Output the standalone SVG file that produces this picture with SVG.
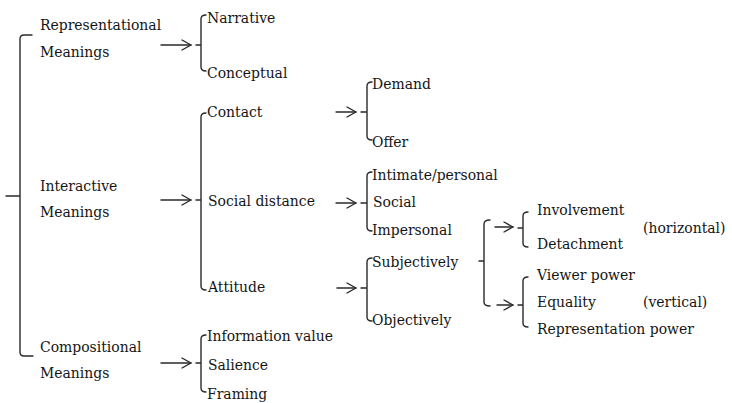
<svg xmlns="http://www.w3.org/2000/svg" width="732" height="403" viewBox="0 0 732 403">
<defs>
<style>
.t text{font-family:'DejaVu Serif Condensed','DejaVu Serif',serif;font-stretch:condensed;font-size:15.5px;fill:#151515}
.ln{fill:none;stroke:#2a2a2a;stroke-width:1.4;stroke-linecap:round;stroke-linejoin:round}
</style>
<marker id="ah" viewBox="-11 -6 12 12" refX="0" refY="0" markerWidth="12" markerHeight="12" markerUnits="userSpaceOnUse" orient="auto">
<path d="M-9,-5 L0,0 L-9,5" fill="none" stroke="#2a2a2a" stroke-width="1.4" stroke-linecap="round" stroke-linejoin="round"/>
</marker>
</defs>
<rect width="732" height="403" fill="#ffffff"/>
<g id="connectors">
<path class="ln" d="M32,35 L24,35 Q20,35 20,39 L20,352 Q20,356 24,356 L33,356 M6,196 L20,196"/>
<line class="ln" x1="161" y1="45" x2="191" y2="45" marker-end="url(#ah)"/>
<line class="ln" x1="161" y1="200" x2="191" y2="200" marker-end="url(#ah)"/>
<line class="ln" x1="161" y1="363" x2="191" y2="363" marker-end="url(#ah)"/>
<path class="ln" d="M196,45 L201,45 M206,15 Q201,15 201,19 L201,67 Q201,71 206,71"/>
<path class="ln" d="M196,200 L201,200 M206,113 Q201,113 201,117 L201,286 Q201,290 206,290"/>
<path class="ln" d="M196,363 L201,363 M206,335 Q201,335 201,339 L201,388 Q201,392 206,392"/>
<line class="ln" x1="336" y1="112" x2="356" y2="112" marker-end="url(#ah)"/>
<line class="ln" x1="336" y1="203" x2="356" y2="203" marker-end="url(#ah)"/>
<line class="ln" x1="337" y1="288" x2="356" y2="288" marker-end="url(#ah)"/>
<path class="ln" d="M361,112 L367,112 M372,82 Q367,82 367,86 L367,136 Q367,140 372,140"/>
<path class="ln" d="M361,203 L367,203 M372,172 Q367,172 367,176 L367,227 Q367,231 372,231"/>
<path class="ln" d="M361,288 L367,288 M372,258 Q367,258 367,262 L367,317 Q367,321 372,321"/>
<path class="ln" d="M479,261 L484,261 M490,220 Q484,220 484,224 L484,302 Q484,306 490,306"/>
<line class="ln" x1="495" y1="227" x2="513" y2="227" marker-end="url(#ah)"/>
<line class="ln" x1="497" y1="305" x2="513" y2="305" marker-end="url(#ah)"/>
<path class="ln" d="M518,228 L523,228 M528,212 Q523,212 523,216 L523,243 Q523,247 528,247"/>
<path class="ln" d="M518,305 L523,305 M528,277 Q523,277 523,281 L523,323 Q523,327 528,327"/>
</g>
<g class="t">
<g id="representational"><text x="40" y="30">Representational</text><text x="40" y="57">Meanings</text></g>
<g id="interactive"><text x="40" y="191">Interactive</text><text x="40" y="217">Meanings</text></g>
<g id="compositional"><text x="40" y="352">Compositional</text><text x="40" y="378">Meanings</text></g>
<g id="narrative"><text x="207" y="23">Narrative</text></g>
<g id="conceptual"><text x="207" y="78">Conceptual</text></g>
<g id="contact"><text x="207" y="117">Contact</text></g>
<g id="social-distance"><text x="208" y="206">Social distance</text></g>
<g id="attitude"><text x="208" y="292">Attitude</text></g>
<g id="information-value"><text x="207" y="341">Information value</text></g>
<g id="salience"><text x="208" y="370">Salience</text></g>
<g id="framing"><text x="207" y="399">Framing</text></g>
<g id="demand"><text x="372" y="89">Demand</text></g>
<g id="offer"><text x="372" y="147">Offer</text></g>
<g id="intimate"><text x="372" y="180">Intimate/personal</text></g>
<g id="social"><text x="373" y="207">Social</text></g>
<g id="impersonal"><text x="372" y="235">Impersonal</text></g>
<g id="subjectively"><text x="372" y="267">Subjectively</text></g>
<g id="objectively"><text x="372" y="325">Objectively</text></g>
<g id="involvement"><text x="537" y="215">Involvement</text></g>
<g id="detachment"><text x="537" y="249">Detachment</text></g>
<g id="horizontal"><text x="643" y="233">(horizontal)</text></g>
<g id="viewer-power"><text x="537" y="280">Viewer power</text></g>
<g id="equality"><text x="537" y="307">Equality</text></g>
<g id="vertical"><text x="643" y="307">(vertical)</text></g>
<g id="representation-power"><text x="537" y="334">Representation power</text></g>
</g>
</svg>
